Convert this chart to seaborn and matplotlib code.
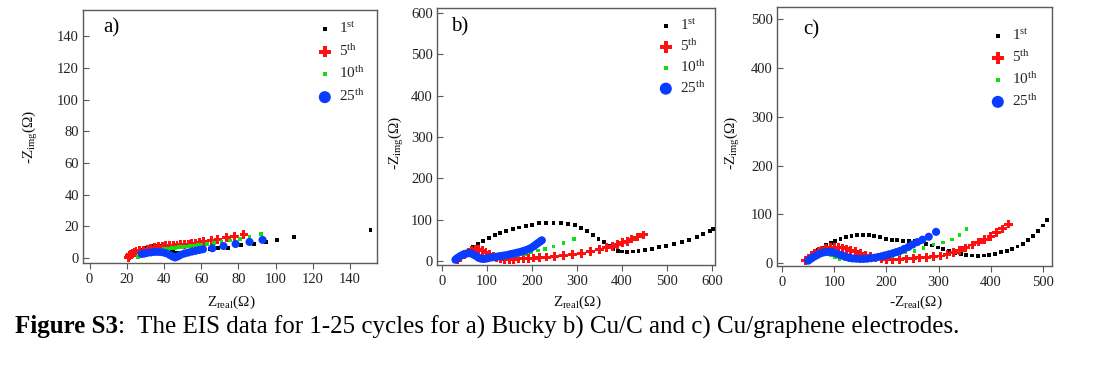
import numpy as np
import pandas as pd
import matplotlib
matplotlib.use('Agg')
import matplotlib.pyplot as plt
import seaborn as sns

sns.set_theme(style='white')
plt.rcParams['font.family'] = ['Liberation Serif', 'DejaVu Serif']
plt.rcParams['mathtext.fontset'] = 'custom'
plt.rcParams['mathtext.rm'] = 'Liberation Serif'
plt.rcParams['mathtext.it'] = 'Liberation Serif:italic'
plt.rcParams['mathtext.bf'] = 'Liberation Serif:bold'

# ---------------- data ----------------
cycles = ['1$^{\\rm st}$', '5$^{\\rm th}$', '10$^{\\rm th}$', '25$^{\\rm th}$']

# panel a) Bucky
x1a = [21, 22, 23, 24, 25, 26, 27, 28, 29, 30, 31, 32, 33, 34, 35, 36, 37, 38, 39, 40, 41, 42, 43, 44, 45, 46, 47,
       48.5, 50, 52, 54, 56, 58, 61, 65, 69, 74.5, 81.5, 88.5, 95, 101, 110, 151]
y1a = [0.5, 1.5, 2.5, 3, 3.5, 4, 4.5, 5, 5.5, 6, 6.5, 7, 7.3, 7.5, 7.6, 7.6, 7.5, 7.3, 7, 6.6, 6.1, 5.5, 5, 4.3, 3.6,
       3.2, 3, 3.1, 3.3, 3.6, 3.9, 4.2, 4.5, 5, 5.5, 6, 6.5, 8, 8.7, 10, 11.3, 13, 17.5]
x5a = [21, 21.5, 22, 23, 24, 25, 27, 29, 31, 33, 35, 37, 39, 41, 43, 45, 47, 49, 51, 53, 55, 57, 59, 61.5, 65.5, 69,
       73.5, 78, 83]
y5a = [0.5, 1.5, 2.3, 3, 3.6, 4, 4.5, 5, 5.6, 6.2, 6.7, 7, 7.3, 7.6, 7.8, 8, 8.2, 8.4, 8.6, 8.8, 9, 9.3, 9.6, 10.3,
       11, 11.8, 12.8, 13.6, 14.8]
x10a = [26, 27, 28, 30, 32, 34, 36, 38, 40, 42, 44, 46, 48, 50, 52, 54, 56, 58, 60, 63, 67, 71, 75.5, 81, 86, 92]
y10a = [0.5, 1.5, 2.3, 3, 3.6, 4.2, 4.7, 5.1, 5.5, 5.8, 6.1, 6.4, 6.7, 7, 7.3, 7.6, 7.9, 8.2, 8.5, 9, 9.5, 10.3, 11,
        11.8, 13, 15]
x25a = [28, 29.5, 31, 33, 35, 37, 39, 41, 43, 44.5, 46, 47.5, 49, 51, 53, 55, 57, 59, 61, 66, 72, 78.5, 86, 93]
y25a = [2.5, 2.8, 3.2, 3.5, 3.8, 3.8, 3.6, 3, 2, 1, 0.3, 1, 2, 2.8, 3.4, 4, 4.5, 5, 5.5, 6.1, 7.5, 8.8, 10.1, 11.4]

# panel b) Cu/C
x1b = [40, 50, 60, 70, 80, 92, 104, 117, 130, 143, 157, 171, 186, 201, 216, 232, 248, 264, 280, 295, 310, 323, 336,
       348, 360, 371, 381, 391, 401, 412, 424, 437, 451, 466, 482, 499, 516, 533, 550, 566, 581, 595, 603]
y1b = [8, 18, 27, 35, 42, 49, 56, 62, 67, 72, 77, 81, 85, 88, 91, 92.5, 93, 92.5, 90, 86, 80, 72, 63, 54, 45, 37, 30,
       25, 23, 22.5, 23, 25, 27, 30, 33, 36, 40, 45, 51, 58, 66, 73, 78]
x5b = [35, 42, 50, 58, 66, 74, 82, 90, 98, 106, 114, 122, 130, 140, 150, 160, 170, 181, 192, 204, 217, 232, 250, 270,
       290, 310, 330, 350, 366, 379, 391, 402, 412, 422, 434, 448]
y5b = [3, 8, 15, 21, 25, 27, 27, 25, 21, 16, 11, 7, 5, 4, 4, 4.5, 5, 6, 6.5, 7, 8, 9.5, 11, 13, 15, 19, 23, 28, 32,
       36, 40, 44, 48, 53, 58, 63]
x10b = [38, 45, 52, 60, 68, 76, 85, 95, 106, 118, 130, 143, 156, 170, 184, 198, 213, 229, 248, 270, 293]
y10b = [4, 9, 13, 15, 14, 11, 8, 6, 6, 7, 8, 10, 12, 14, 17, 21, 25, 29, 35, 44, 53]
x25b = [30, 33, 37, 41, 46, 51, 56, 61, 66, 71, 76, 81, 86, 91, 96, 101, 107, 113, 119, 125, 131, 137, 143, 149, 155,
        161, 167, 173, 179, 185, 191, 197, 203, 208, 213, 218, 222]
y25b = [3, 6, 9, 12, 15, 17, 18.5, 19, 18, 15, 12, 8, 6, 5, 5.5, 6.5, 8, 9, 10, 11, 12, 13, 14, 15.5, 17, 18.5, 20,
        21.5, 23.5, 25.5, 28, 31, 35, 39, 43, 47, 50]

# panel c) Cu/graphene
x1c = [45, 52, 60, 68, 76, 84, 93, 102, 112, 122, 133, 144, 155, 166, 177, 188, 199, 210, 221, 232, 243, 254, 265,
       276, 287, 298, 309, 320, 331, 342, 353, 364, 375, 386, 397, 408, 419, 430, 441, 451, 461, 471, 481, 491, 500, 508]
y1c = [5, 12, 19, 26, 32, 37, 42, 46, 50, 53, 55.5, 57, 57.5, 57, 55.5, 53, 50, 48, 46.5, 45.5, 45, 44.5, 43, 40, 36,
       32, 28, 24, 21, 18.5, 16.5, 15.5, 15, 15.5, 17, 19, 22, 25, 29, 34, 40, 47, 56, 66, 77, 89]
x5c = [45, 50, 56, 62, 69, 76, 84, 92, 100, 108, 116, 124, 132, 141, 150, 160, 170, 180, 190, 200, 212, 225, 238, 251,
       264, 277, 290, 303, 316, 328, 340, 352, 364, 376, 388, 400, 411, 422, 433]
y5c = [5, 10, 15, 19, 23, 27, 30, 32, 33, 32.5, 31, 29, 26, 23, 19.5, 16, 13, 10.5, 8.5, 7.5, 7, 7.5, 8.5, 9.5, 10.5,
       12, 13, 14.5, 17, 21, 26, 31, 37, 43, 49, 55, 62, 70, 80]
x10c = [48, 55, 62, 70, 78, 86, 94, 102, 110, 120, 130, 142, 155, 168, 182, 196, 210, 223, 236, 254, 271, 290, 308,
        326, 340, 353]
y10c = [4, 9, 13, 16, 18, 18, 16, 12, 9, 7, 6, 6, 7, 8, 10, 12, 15, 18, 22, 25, 31, 38, 42, 48, 58, 70]
x25c = [50, 54, 58, 63, 68, 74, 80, 86, 92, 98, 104, 110, 116, 122, 128, 135, 142, 149, 156, 163, 170, 177, 184, 191,
        198, 205, 212, 219, 226, 234, 242, 250, 259, 269, 281, 295]
y25c = [5, 8, 11, 14, 17, 20, 22, 23, 23, 22, 20, 17, 15, 13, 11, 9.5, 9, 8.5, 8.5, 9, 10, 11, 12.5, 14, 16, 18, 20,
        22.5, 25, 29, 33, 38, 43, 48, 54, 64]

panel_tags = ['a)', 'b)', 'c)']
xlabels = ['Z$_{\\rm real}$(\u03a9)', 'Z$_{\\rm real}$(\u03a9)', '-Z$_{\\rm real}$(\u03a9)']
ylabel = '-Z$_{\\rm img}$(\u03a9)'
xticks = [np.arange(0, 141, 20), np.arange(0, 601, 100), np.arange(0, 501, 100)]
yticks = [np.arange(0, 141, 20), np.arange(0, 601, 100), np.arange(0, 501, 100)]
caption_bold = 'Figure S3'
caption_rest = ':  The EIS data for 1-25 cycles for a) Bucky b) Cu/C and c) Cu/graphene electrodes.'

panels = [
    [(x1a, y1a), (x5a, y5a), (x10a, y10a), (x25a, y25a)],
    [(x1b, y1b), (x5b, y5b), (x10b, y10b), (x25b, y25b)],
    [(x1c, y1c), (x5c, y5c), (x10c, y10c), (x25c, y25c)],
]

# ---------------- style ----------------
markers = ['s', 'P', 's', 'o']
sizes = [8, 40, 7, 34]
leg_sizes = [9, 70, 9, 75]
colors = ['#000000', '#ff1010', '#10e010', '#0a3cff']

W, H = 1114, 373
fig = plt.figure(figsize=(W / 100, H / 100), dpi=100)

ax_px = [(83, 10, 377, 263), (437, 8, 715, 265), (777, 7, 1052, 266)]
xlims = [(-3.5, 154.5), (-11, 607), (-9.6, 517)]
ylims = [(-3.2, 156.5), (-9.7, 612), (-6, 525)]
tag_pos = [(111, 28), (460, 27), (811, 30)]
ylab_x = [31, 396, 733]
ylab_y = [137, 143, 143]
xlab_y = 302
leg_anchor = [(308, 13), (649, 10), (981, 20)]
leg_spacing = [0.45, 0.33, 0.4]

spine_col = '#5a5a5a'
for i, series in enumerate(panels):
    l, t, r, b = ax_px[i]
    ax = fig.add_axes([l / W, 1 - b / H, (r - l) / W, (b - t) / H])
    for j, (xs, ys) in enumerate(series):
        df = pd.DataFrame({'x': xs, 'y': ys})
        sns.scatterplot(data=df, x='x', y='y', ax=ax, marker=markers[j], s=sizes[j],
                        color=colors[j], edgecolor='none', linewidth=0, label=cycles[j], zorder=3 + j)
    ax.set_xlim(*xlims[i])
    ax.set_ylim(*ylims[i])
    ax.set_xticks(xticks[i])
    ax.set_yticks(yticks[i])
    ax.tick_params(axis='x', direction='out', length=4, width=0.8, color=spine_col,
                   labelsize=10.5, labelcolor='#222222', pad=3, bottom=True)
    ax.tick_params(axis='y', direction='in', length=4, width=0.8, color=spine_col,
                   labelsize=10.5, labelcolor='#222222', pad=3, left=True)
    for sp in ax.spines.values():
        sp.set_color(spine_col)
        sp.set_linewidth(1.0)
    ax.set_xlabel(xlabels[i], fontsize=11, va='center', color='#111111')
    ax.xaxis.set_label_coords(((l + r) / 2 - l) / (r - l) + 0.005, (b - xlab_y) / (b - t))
    ax.set_ylabel(ylabel, fontsize=11, va='center', color='#111111')
    ax.yaxis.set_label_coords((ylab_x[i] - l) / (r - l), (b - ylab_y[i]) / (b - t))
    ax.text((tag_pos[i][0] - l) / (r - l), (b - tag_pos[i][1]) / (b - t), panel_tags[i],
            transform=ax.transAxes, fontsize=15, ha='center', va='center', color='black')
    ax.grid(False)
    leg = ax.legend(loc='upper left',
                    bbox_to_anchor=((leg_anchor[i][0] - l) / (r - l), (b - leg_anchor[i][1]) / (b - t)),
                    frameon=False, fontsize=11, labelspacing=leg_spacing[i], handletextpad=0.3,
                    borderpad=0, handlelength=1.2)
    for j, h in enumerate(leg.legend_handles):
        h.set_sizes([leg_sizes[j]])

cap_fs = 18
t1 = fig.text(15 / W, 1 - 327 / H, caption_bold, fontsize=cap_fs, weight='bold', va='center', ha='left',
              color='black')
fig.canvas.draw()
bb = t1.get_window_extent(renderer=fig.canvas.get_renderer())
fig.text(bb.x1 / W, 1 - 327 / H, caption_rest, fontsize=cap_fs, va='center', ha='left', color='black')

fig.savefig('out.png', dpi=100)
